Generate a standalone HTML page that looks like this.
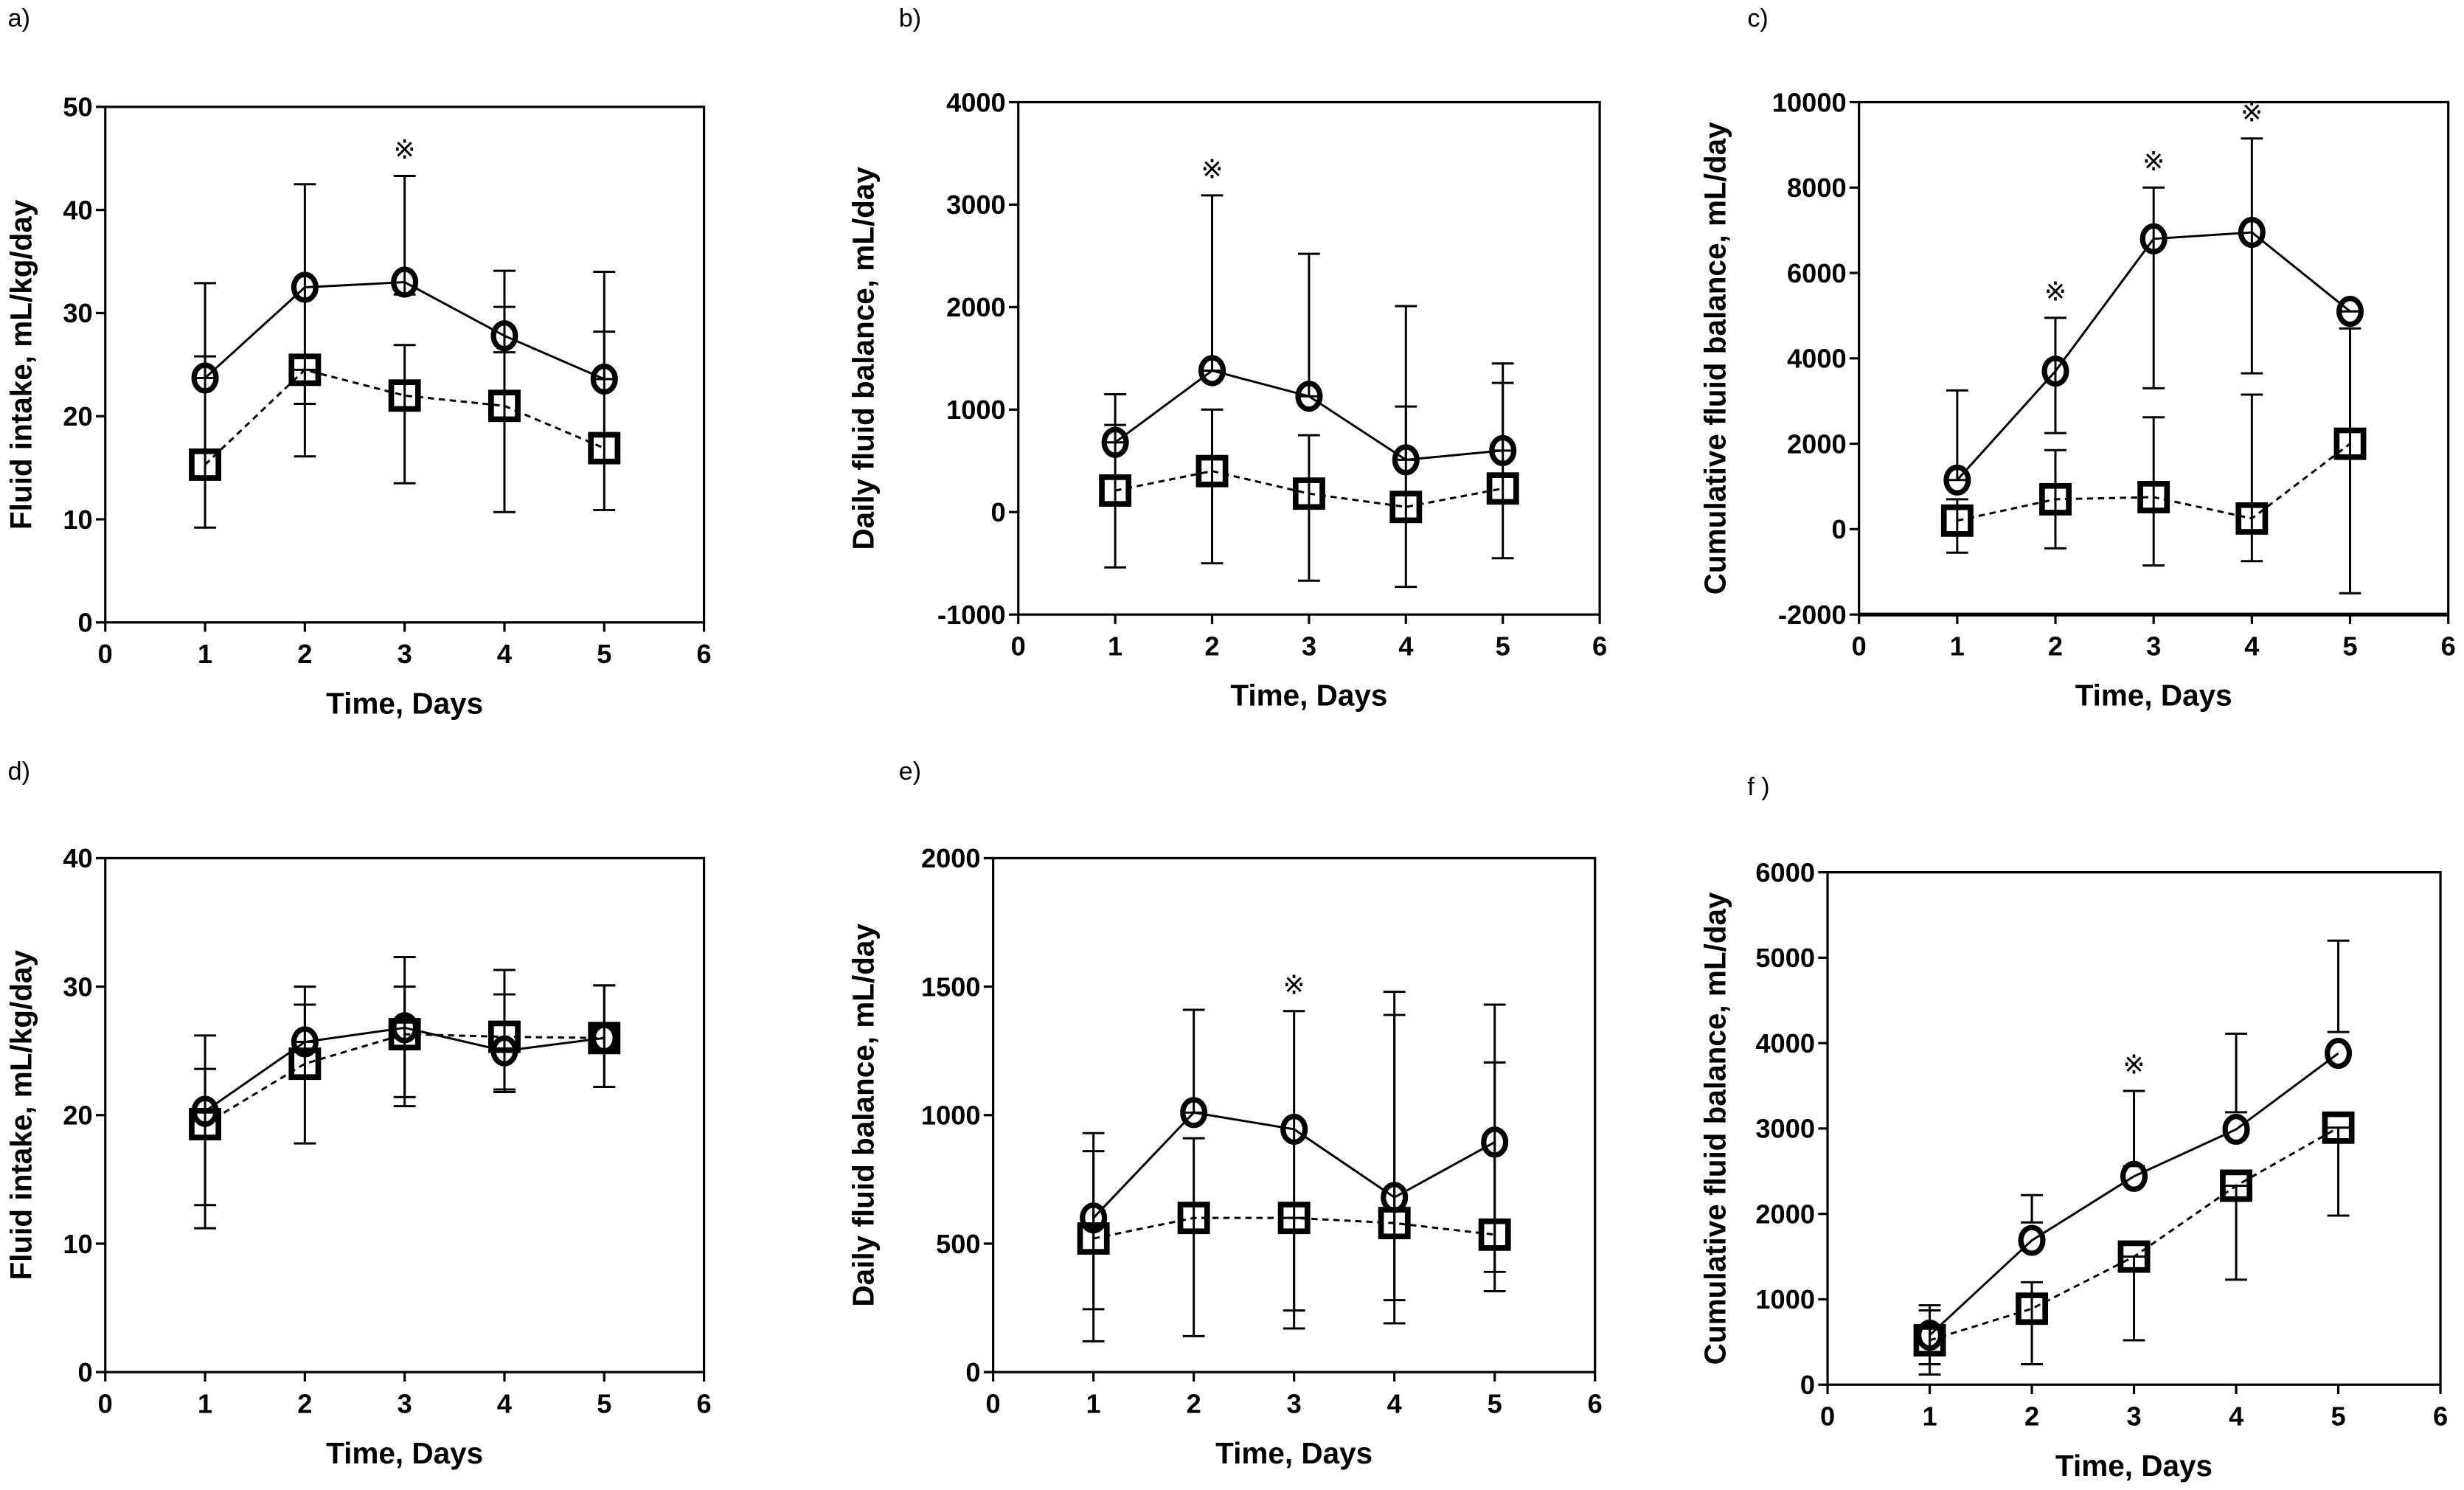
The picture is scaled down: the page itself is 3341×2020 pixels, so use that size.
<!DOCTYPE html>
<html><head><meta charset="utf-8"><style>
html,body{margin:0;padding:0;background:#fff}
svg{display:block}
text{font-family:"Liberation Sans",Arial,sans-serif;font-weight:bold;fill:#000}
</style></head><body>
<svg id="fig" width="3341" height="2020" viewBox="0 0 1568 948" preserveAspectRatio="none" xmlns="http://www.w3.org/2000/svg"></svg>
<script>
const days = [1, 2, 3, 4, 5];
const xTicks = [0, 1, 2, 3, 4, 5, 6];

// Panel a
const aCircle = [23.7, 32.5, 33, 27.8, 23.6];
const aCircleHi = [32.9, 42.5, 43.3, 34.1, 34.0];
const aCircleLo = [23.7, 21.2, 31.8, 26.2, 23.6];
const aSquare = [15.3, 24.5, 22, 21, 16.9];
const aSquareHi = [25.8, 24.5, 26.9, 30.6, 28.2];
const aSquareLo = [9.2, 16.1, 13.5, 10.7, 10.9];
const aYTicks = [0, 10, 20, 30, 40, 50];
const aStars = [3];
// Panel b
const bCircle = [680, 1380, 1130, 510, 600];
const bCircleHi = [1150, 3090, 2520, 2010, 1450];
const bCircleLo = [680, 1380, 1130, 510, 600];
const bSquare = [210, 400, 180, 50, 230];
const bSquareHi = [850, 1000, 750, 1030, 1260];
const bSquareLo = [-540, -500, -670, -730, -450];
const bYTicks = [-1000, 0, 1000, 2000, 3000, 4000];
const bStars = [2];
// Panel c
const cCircle = [1150, 3700, 6800, 6950, 5100];
const cCircleHi = [3250, 4950, 8000, 9150, 5100];
const cCircleLo = [1150, 2250, 3300, 3650, 5100];
const cSquare = [200, 700, 750, 250, 2000];
const cSquareHi = [700, 1850, 2620, 3150, 4700];
const cSquareLo = [-550, -450, -850, -750, -1500];
const cYTicks = [-2000, 0, 2000, 4000, 6000, 8000, 10000];
const cStars = [2, 3, 4];
// Panel d
const dCircle = [20.3, 25.7, 26.8, 25, 26];
const dCircleHi = [26.2, 30, 32.3, 29.4, 30.1];
const dCircleLo = [13, 25.7, 21.4, 22, 22.2];
const dSquare = [19.3, 24, 26.3, 26.1, 26];
const dSquareHi = [23.6, 28.6, 30, 31.3, 30.1];
const dSquareLo = [11.2, 17.8, 20.7, 21.8, 22.2];
const dYTicks = [0, 10, 20, 30, 40];
const dStars = [];
// Panel e
const eCircle = [600, 1010, 945, 680, 895];
const eCircleHi = [930, 1410, 1405, 1480, 1430];
const eCircleLo = [245, 1010, 240, 280, 390];
const eSquare = [520, 600, 600, 580, 535];
const eSquareHi = [860, 910, 600, 1390, 1205];
const eSquareLo = [120, 140, 170, 190, 315];
const eYTicks = [0, 500, 1000, 1500, 2000];
const eStars = [3];
// Panel f
const fCircle = [580, 1690, 2440, 2990, 3880];
const fCircleHi = [930, 2220, 3440, 4110, 5200];
const fCircleLo = [240, 1900, 2560, 3190, 4130];
const fSquare = [520, 890, 1500, 2330, 3010];
const fSquareHi = [870, 1200, 1500, 2330, 3010];
const fSquareLo = [120, 240, 520, 1230, 1980];
const fYTicks = [0, 1000, 2000, 3000, 4000, 5000, 6000];
const fStars = [3];

const NS = "http://www.w3.org/2000/svg";
const svg = document.getElementById('fig');
function mk(tag, attrs, parent, txt) {
  const e = document.createElementNS(NS, tag);
  for (const k in attrs) e.setAttribute(k, attrs[k]);
  if (txt !== undefined) e.textContent = txt;
  (parent || svg).appendChild(e);
  return e;
}

const panels = [
  {id:'a', label:'a)', lx:5, ly:17, L:67, R:448, T:68, B:396, yt:aYTicks, title:'Fluid intake, mL/kg/day', tx:20,
   c:aCircle, ch:aCircleHi, cl:aCircleLo, s:aSquare, sh:aSquareHi, sl:aSquareLo, stars:aStars, thickBottom:false},
  {id:'b', label:'b)', lx:572, ly:17, L:648, R:1018, T:65, B:391, yt:bYTicks, title:'Daily fluid balance, mL/day', tx:556,
   c:bCircle, ch:bCircleHi, cl:bCircleLo, s:bSquare, sh:bSquareHi, sl:bSquareLo, stars:bStars, thickBottom:false},
  {id:'c', label:'c)', lx:1112, ly:17, L:1183, R:1558, T:65, B:391, yt:cYTicks, title:'Cumulative fluid balance, mL/day', tx:1098,
   c:cCircle, ch:cCircleHi, cl:cCircleLo, s:cSquare, sh:cSquareHi, sl:cSquareLo, stars:cStars, thickBottom:true},
  {id:'d', label:'d)', lx:5, ly:496, L:67, R:448, T:546, B:873, yt:dYTicks, title:'Fluid intake, mL/kg/day', tx:20,
   c:dCircle, ch:dCircleHi, cl:dCircleLo, s:dSquare, sh:dSquareHi, sl:dSquareLo, stars:dStars, thickBottom:false},
  {id:'e', label:'e)', lx:572, ly:496, L:632, R:1015, T:546, B:873, yt:eYTicks, title:'Daily fluid balance, mL/day', tx:556,
   c:eCircle, ch:eCircleHi, cl:eCircleLo, s:eSquare, sh:eSquareHi, sl:eSquareLo, stars:eStars, thickBottom:false},
  {id:'f', label:'f )', lx:1112, ly:506, L:1163, R:1553, T:555, B:881, yt:fYTicks, title:'Cumulative fluid balance, mL/day', tx:1098,
   c:fCircle, ch:fCircleHi, cl:fCircleLo, s:fSquare, sh:fSquareHi, sl:fSquareLo, stars:fStars, thickBottom:false},
];

panels.forEach(p => {
  const g = mk('g', {});
  
  
  const ymin = p.yt[0], ymax = p.yt[p.yt.length - 1];
  const X = v => p.L + (v - xTicks[0]) / (xTicks[xTicks.length-1] - xTicks[0]) * (p.R - p.L);
  const Y = v => p.B - (v - ymin) / (ymax - ymin) * (p.B - p.T);

  const lab = mk('text', {x:p.lx, y:p.ly, 'font-size':16, style:'font-weight:normal'}, g, p.label);
  
  

  const frame = mk('rect', {x:p.L, y:p.T, width:p.R-p.L, height:p.B-p.T, fill:'none', stroke:'#000', 'stroke-width':1.5}, g);
  
  
  if (p.thickBottom) {
    const xb = mk('line', {x1:p.L, x2:p.R, y1:p.B, y2:p.B, stroke:'#000', 'stroke-width':2.4}, g);
    
    
  }
  p.yt.forEach(t => {
    mk('line', {x1:p.L-6, x2:p.L, y1:Y(t), y2:Y(t), stroke:'#000', 'stroke-width':1.5}, g);
    const tl = mk('text', {x:p.L-8, y:Y(t)+6, 'font-size':17, 'text-anchor':'end'}, g, String(t));
    
    
  });
  xTicks.forEach(t => {
    mk('line', {x1:X(t), x2:X(t), y1:p.B, y2:p.B+6, stroke:'#000', 'stroke-width':1.5}, g);
    const tl = mk('text', {x:X(t), y:p.B+26, 'font-size':17, 'text-anchor':'middle'}, g, String(t));
    
    
  });
  const xt = mk('text', {x:(p.L+p.R)/2, y:p.B+58, 'font-size':19, 'text-anchor':'middle'}, g, 'Time, Days');
  
  
  const yc = (p.T+p.B)/2;
  const yt = mk('text', {x:p.tx, y:yc, 'font-size':19, 'text-anchor':'middle', transform:`rotate(-90 ${p.tx} ${yc})`}, g, p.title);
  
  

  function ebar(x, lo, hi, nm) {
    const e = mk('g', {stroke:'#000', 'stroke-width':1.4}, g);
    
    
    mk('line', {x1:x, x2:x, y1:Y(lo), y2:Y(hi)}, e);
    mk('line', {x1:x-7, x2:x+7, y1:Y(hi), y2:Y(hi)}, e);
    mk('line', {x1:x-7, x2:x+7, y1:Y(lo), y2:Y(lo)}, e);
  }
  days.forEach((d, i) => {
    ebar(X(d), p.cl[i], p.ch[i], 'circle-error-bar');
    ebar(X(d), p.sl[i], p.sh[i], 'square-error-bar');
  });
  const sq = mk('polyline', {points: days.map((d,i)=>X(d)+','+Y(p.s[i])).join(' '), fill:'none', stroke:'#000', 'stroke-width':1.4, 'stroke-dasharray':'4,3'}, g);
  
  
  const ci = mk('polyline', {points: days.map((d,i)=>X(d)+','+Y(p.c[i])).join(' '), fill:'none', stroke:'#000', 'stroke-width':1.4}, g);
  
  
  days.forEach((d, i) => {
    const r = mk('rect', {x:X(d)-8.5, y:Y(p.s[i])-8.5, width:17, height:17, fill:'none', stroke:'#000', 'stroke-width':3.6}, g);
    
    
    const c = mk('ellipse', {cx:X(d), cy:Y(p.c[i]), rx:7, ry:8.2, fill:'none', stroke:'#000', 'stroke-width':3.4}, g);
    
    
  });
  p.stars.forEach(d => {
    const i = days.indexOf(d);
    const top = Math.max(p.ch[i], p.c[i], p.sh[i]);
    const st = mk('text', {x:X(d), y:Y(top)-11, 'font-size':17, 'text-anchor':'middle', style:'font-weight:normal'}, g, '\u203B');
    
    
  });
});
</script>
</body></html>
